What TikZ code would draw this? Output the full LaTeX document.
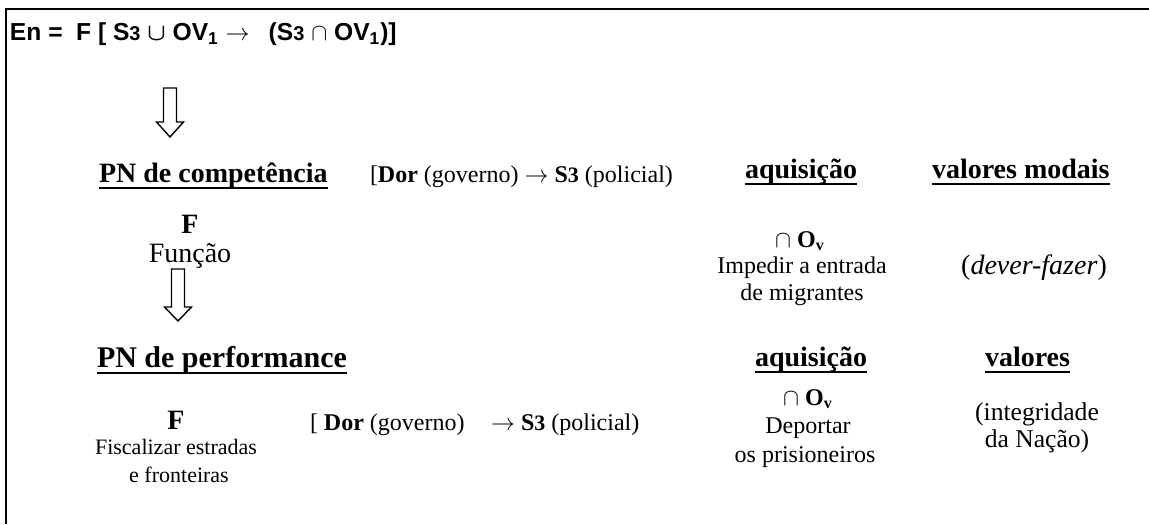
\documentclass[tikz,border=0pt]{standalone}
\usepackage{fontspec}
\setmainfont{Liberation Serif}
\newfontfamily\arialfont{Liberation Sans}
\begin{document}
\begin{tikzpicture}[x=0.5pt,y=-0.5pt,
  txt/.style={inner sep=0pt, outer sep=0pt},
  body/.style={txt, font=\fontsize{12}{14}\selectfont},
  bodybig/.style={txt, font=\fontsize{14}{16}\selectfont},
  small/.style={txt, font=\fontsize{11}{13}\selectfont},
  hdr/.style={txt, font=\fontsize{14}{16}\selectfont\bfseries},
  hdrbig/.style={txt, font=\fontsize{15}{17}\selectfont\bfseries},
  uline/.style={line width=1pt},
  frame/.style={line width=1.3pt},
  hollow/.style={draw, line width=0.7pt, fill=white, line join=miter}
]
\useasboundingbox (0,0) rectangle (1149,524);

% frame of the scheme
\draw[frame] (6,524) -- (6,9) -- (1149,9);

% formula of the narrative statement
\node[txt, anchor=base west, font=\arialfont\fontsize{12.3}{14}\selectfont\bfseries] (title) at (10,41)
  {En =\hspace{0.55em}F [ S{\fontsize{10}{12}\selectfont 3} {\boldmath$\cup$} OV\textsubscript{1} $\rightarrow$\hspace{0.5em} (S{\fontsize{10}{12}\selectfont 3} $\cap$ OV\textsubscript{1})]};

% hollow arrows
\newcommand{\hollowarrow}[4]{% centre x, top, head start, tip
  \draw[hollow] (#1-6.5,#2) -- (#1+6.5,#2) -- (#1+6.5,#3) -- (#1+13.5,#3)
    -- (#1,#4) -- (#1-13.5,#3) -- (#1-6.5,#3) -- cycle;}
\hollowarrow{170}{88}{122}{137}
\hollowarrow{178}{269}{307}{321}

% competence programme
\node[hdr, anchor=base west] (pnc) at (99,182) {PN de competência};
\node[body, anchor=base west] (dor1) at (370,182)
  {[\textbf{Dor} (governo) $\rightarrow$ \textbf{S{\fontsize{11}{13}\selectfont 3}} (policial)};
\node[hdr, anchor=base west] (aq1) at (745,178) {aquisição};
\node[hdr, anchor=base west] (vm) at (932,178) {valores modais};

\node[hdr, anchor=base] (f1) at (190,233) {F};
\node[bodybig, anchor=base] (funcao) at (190,262) {Função};

\node[body, anchor=base] (ov1) at (800,247) {$\cap$ \textbf{O\textsubscript{v}}};
\node[body, anchor=base] (imp) at (802,273) {Impedir a entrada};
\node[body, anchor=base] (mig) at (802,300) {de migrantes};
\node[bodybig, anchor=base] (dever) at (1034,274) {(\textit{dever-fazer})};

% performance programme
\node[hdrbig, anchor=base west] (pnp) at (97,367) {PN de performance};
\node[hdr, anchor=base west] (aq2) at (755,366) {aquisição};
\node[hdr, anchor=base west] (val) at (985,366) {valores};

\node[hdr, anchor=base] (f2) at (176,429) {F};
\node[small, anchor=base] (fisc) at (176,454) {Fiscalizar estradas};
\node[small, anchor=base] (fron) at (179,482) {e fronteiras};

\node[body, anchor=base west] (dor2) at (310,430)
  {[ \textbf{Dor} (governo)\hspace{1.1em}$\rightarrow$ \textbf{S{\fontsize{11}{13}\selectfont 3}} (policial)};

\node[body, anchor=base] (ov2) at (808,405) {$\cap$ \textbf{O\textsubscript{v}}};
\node[body, anchor=base] (dep) at (808,433) {Deportar};
\node[body, anchor=base] (pris) at (805,462) {os prisioneiros};

\node[body, anchor=base, font=\fontsize{12.8}{15}\selectfont] (integ) at (1037,420) {(integridade};
\node[body, anchor=base, font=\fontsize{12.8}{15}\selectfont] (nacao) at (1037,447) {da Nação)};

% underlines of the headings
\foreach \n in {pnc,aq1,vm,aq2,val}
  \draw[uline] ([yshift=-3pt]\n.base west) -- ([yshift=-3pt]\n.base east);
\draw[uline] ([yshift=-3.2pt]pnp.base west) -- ([yshift=-3.2pt]pnp.base east);
\end{tikzpicture}
\end{document}
